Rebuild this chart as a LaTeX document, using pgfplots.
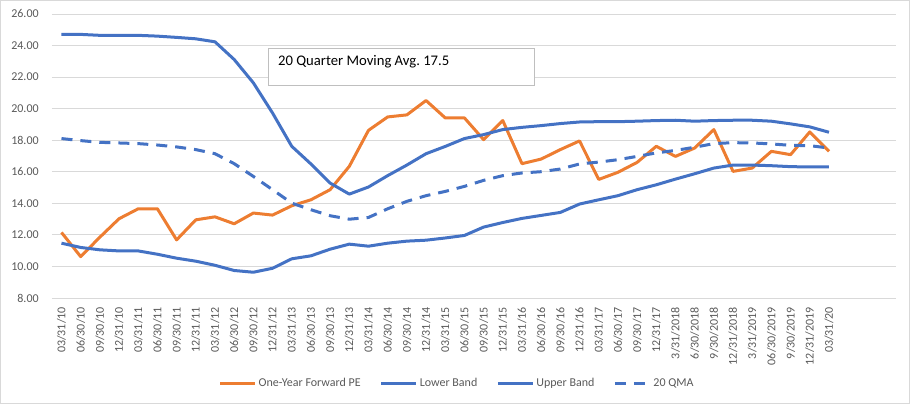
\documentclass[border=0pt]{standalone}
\usepackage{fontspec}
\setmainfont{Carlito}
\usepackage{pgfplots}
\pgfplotsset{compat=1.18}
\usepackage{pgfplotstable}
\definecolor{peorange}{HTML}{ED7D31}
\definecolor{bandblue}{HTML}{4472C4}
\definecolor{gridgray}{HTML}{D9D9D9}
\definecolor{labelgray}{HTML}{595959}
\newcommand\tickfont{\fontsize{12bp}{14bp}\selectfont}

% quarter index, forward PE, lower band, upper band, 20 quarter moving avg
\pgfplotstableread{
q pe lower upper qma
0 12.15 11.47 24.70 18.10
1 10.62 11.20 24.70 17.97
2 11.85 11.05 24.64 17.86
3 13.02 10.98 24.64 17.82
4 13.65 10.98 24.64 17.78
5 13.65 10.77 24.59 17.69
6 11.68 10.52 24.51 17.57
7 12.95 10.33 24.42 17.40
8 13.14 10.07 24.23 17.14
9 12.70 9.74 23.11 16.51
10 13.38 9.63 21.63 15.70
11 13.25 9.88 19.72 14.86
12 13.84 10.48 17.61 14.01
13 14.22 10.67 16.49 13.59
14 14.86 11.09 15.28 13.21
15 16.34 11.41 14.58 12.99
16 18.62 11.28 15.03 13.10
17 19.47 11.47 15.75 13.65
18 19.60 11.60 16.42 14.12
19 20.51 11.66 17.14 14.48
20 19.41 11.80 17.60 14.75
21 19.41 11.96 18.10 15.07
22 18.03 12.49 18.35 15.45
23 19.24 12.78 18.67 15.75
24 16.51 13.04 18.81 15.92
25 16.80 13.23 18.92 16.00
26 17.40 13.42 19.05 16.17
27 17.95 13.95 19.15 16.49
28 15.51 14.22 19.17 16.61
29 15.96 14.48 19.17 16.76
30 16.59 14.86 19.20 16.97
31 17.61 15.17 19.24 17.19
32 16.97 15.53 19.26 17.35
33 17.50 15.87 19.20 17.55
34 18.67 16.23 19.24 17.78
35 16.02 16.42 19.26 17.84
36 16.23 16.42 19.26 17.82
37 17.29 16.38 19.20 17.76
38 17.08 16.32 19.03 17.67
39 18.52 16.30 18.84 17.65
40 17.29 16.30 18.50 17.50
}\petable

\begin{document}
\begin{tikzpicture}
\draw[gridgray, line width=0.75bp] (0.5bp,0.5bp) rectangle (909.5bp,403.5bp);
\begin{axis}[
  at={(52bp,106bp)}, anchor=south west, scale only axis,
  width=844bp, height=284bp,
  xmin=-0.5, xmax=43.5, ymin=8, ymax=26,
  ytick={8,10,...,26},
  xtick={0,...,40},
  xticklabels={03/31/10,06/30/10,09/30/10,12/31/10,03/31/11,06/30/11,09/30/11,12/31/11,03/31/12,06/30/12,09/30/12,12/31/12,03/31/13,06/30/13,09/30/13,12/31/13,03/31/14,06/30/14,09/30/14,12/31/14,03/31/15,06/30/15,09/30/15,12/31/15,03/31/16,06/30/16,09/30/16,12/31/16,03/31/17,06/30/17,09/30/17,12/31/17,3/31/2018,6/30/2018,9/30/2018,12/31/2018,3/31/2019,06/30/2019,9/30/2019,12/31/2019,03/31/20},
  axis line style={draw=none},
  major tick length=0pt,
  ymajorgrids,
  major grid style={gridgray, line width=0.75bp},
  /pgf/number format/assume math mode=true,
  yticklabel style={/pgf/number format/fixed, /pgf/number format/fixed zerofill, /pgf/number format/precision=2,
    inner sep=0pt, xshift=-13bp, font=\tickfont, text=labelgray},
  xticklabel style={rotate=90, anchor=east, inner sep=0pt, font=\tickfont, text=labelgray},
  xticklabel shift=9bp,
  legend style={at={(0.48,-0.30)}, anchor=center, draw=none, fill=none,
    legend columns=-1, font=\tickfont, text=labelgray,
    /tikz/every even column/.append style={column sep=17bp}},
  legend image code/.code={\draw[#1] (0bp,0bp) -- (35bp,0bp);},
]
\addplot[peorange, line width=3bp, line join=round] table[x=q, y=pe] \petable;
\addlegendentry{One-Year Forward PE}
\addplot[bandblue, line width=3bp, line join=round] table[x=q, y=lower] \petable;
\addlegendentry{Lower Band}
\addplot[bandblue, line width=3bp, line join=round] table[x=q, y=upper] \petable;
\addlegendentry{Upper Band}
\addplot[bandblue, line width=3bp, line join=round, dash pattern=on 11bp off 8bp] table[x=q, y=qma] \petable;
\addlegendentry{20 QMA}
\end{axis}
\draw[gray!50, line width=0.75bp, fill=white] (268bp,319bp) rectangle (534bp,356bp);
\node[anchor=west, inner sep=0pt, font=\fontsize{14.67bp}{17bp}\selectfont] at (278bp,342bp) {20 Quarter Moving Avg.\ 17.5};
\end{tikzpicture}
\end{document}
